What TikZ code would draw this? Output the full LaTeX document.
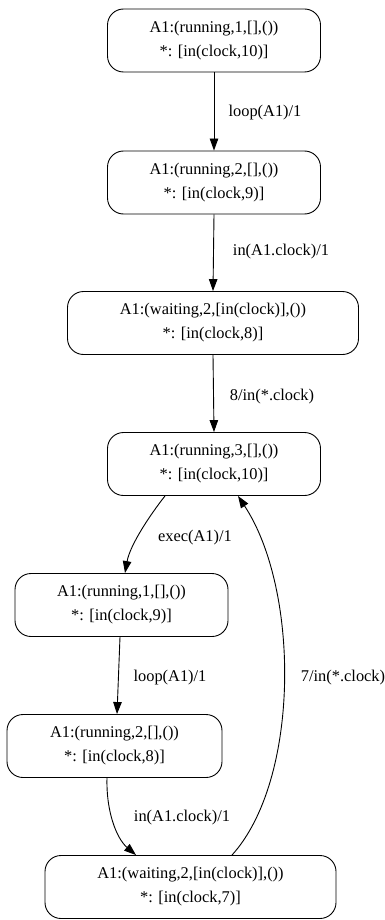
\documentclass[tikz,border=0pt]{standalone}
\usepackage{fontspec}
\setmainfont{Liberation Serif}
\usetikzlibrary{arrows.meta,calc}
\begin{document}
\begin{tikzpicture}[x=1pt,y=-1pt,
  state/.style={draw,line width=0.9pt,rounded corners=16pt,align=center,inner sep=0pt,
    font=\fontsize{16.4}{24}\selectfont,minimum height=63pt},
  lab/.style={font=\fontsize{16.4}{20}\selectfont,inner sep=0pt},
  edge/.style={line width=0.9pt,-{Triangle[length=12pt,width=8.5pt]}}]
\useasboundingbox (0,0) rectangle (385,920);
\node[state,minimum width=213pt] (n1) at (214,40.5) {A1:(running,1,[],())\\*: [in(clock,10)]};
\node[state,minimum width=213pt] (n2) at (214,182.5) {A1:(running,2,[],())\\*: [in(clock,9)]};
\node[state,minimum width=291pt] (n3) at (213,323) {A1:(waiting,2,[in(clock)],())\\*: [in(clock,8)]};
\node[state,minimum width=213pt] (n4) at (214,464) {A1:(running,3,[],())\\*: [in(clock,10)]};
\node[state,minimum width=213pt] (n5) at (121.5,605) {A1:(running,1,[],())\\*: [in(clock,9)]};
\node[state,minimum width=215pt] (n6) at (114.5,746) {A1:(running,2,[],())\\*: [in(clock,8)]};
\node[state,minimum width=291pt] (n7) at (190.5,887) {A1:(waiting,2,[in(clock)],())\\*: [in(clock,7)]};

\draw[edge] (n1.south) -- (n2.north);
\draw[edge] (n2.south) -- (n3.north);
\draw[edge] (n3.south) -- (n4.north);
\draw[edge] ($(n4.south)+(-49,0)$) .. controls (150,515) and (130,545) .. ($(n5.north)+(3.5,0)$);
\draw[edge] ($(n5.south)+(-1.5,0)$) -- ($(n6.north)+(2.5,0)$);
\draw[edge] ($(n6.south)+(-7.5,0)$) .. controls (106,810) and (116,838) .. ($(n7.north)+(-54.5,0)$);
\draw[edge] ($(n7.north)+(41.5,0)$) .. controls (300,780) and (300,590) .. ($(n4.south)+(24,0)$);

\node[lab] (l1) at (265,113) {loop(A1)/1};
\node[lab] (l2) at (281,252) {in(A1.clock)/1};
\node[lab] (l3) at (272,397) {8/in(*.clock)};
\node[lab] (l4) at (195,538) {exec(A1)/1};
\node[lab] (l5) at (170,678) {loop(A1)/1};
\node[lab] (l6) at (182,818) {in(A1.clock)/1};
\node[lab] (l7) at (343,678) {7/in(*.clock)};
\end{tikzpicture}
\end{document}
